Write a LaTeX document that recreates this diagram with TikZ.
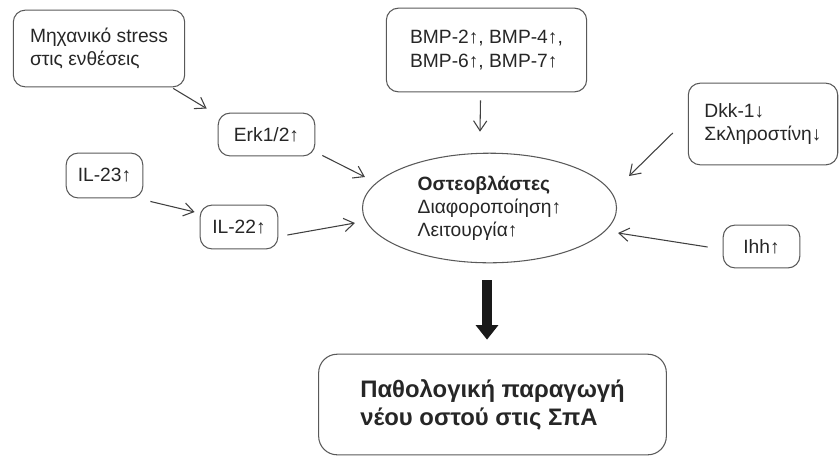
\documentclass[tikz,border=0pt]{standalone}
\usepackage{fontspec}
\setmainfont{Liberation Sans}
\usetikzlibrary{arrows.meta,calc,shapes.geometric}
\tikzset{
  box/.style={draw=black!65,line width=0.8pt,rounded corners=9pt,align=left,text=black!85,inner sep=0pt},
  wh/.style 2 args={minimum width=#1*0.7513pt,minimum height=#2*0.7513pt},
  arr/.style={draw=black!75,line width=0.8pt,-{Straight Barb[length=7.5pt,width=10pt]}},
}
\begin{document}
\begin{tikzpicture}[x=0.0265cm,y=-0.0265cm,font=\fontsize{14.5}{17.5}\selectfont]
\useasboundingbox (0,0) rectangle (840,458);

\node[box,wh={172}{77}] (stress) at (99,48.5) {Μηχανικό stress\\στις ενθέσεις};
\node[box,wh={201}{84}] (bmp) at (486.5,50) {BMP-2↑, BMP-4↑,\\BMP-6↑, BMP-7↑};
\node[box,wh={97}{43}] (erk) at (266.5,134.5) {Erk1/2↑};
\node[box,wh={77}{45}] (il23) at (104.5,175.5) {IL-23↑};
\node[box,wh={78}{44}] (il22) at (239,227) {IL-22↑};
\node[box,wh={150}{82}] (dkk) at (763,124) {Dkk-1↓\\Σκληροστίνη↓};
\node[box,wh={77}{43}] (ihh) at (761.5,246.5) {Ihh↑};
\node[ellipse,draw=black!65,line width=0.8pt,align=left,text=black!85,inner sep=0pt,wh={255}{110}] (osteo) at (489.5,208)
  {\textbf{Οστεοβλάστες}\\Διαφοροποίηση↑\\Λειτουργία↑};
\node[box,rounded corners=14pt,wh={349}{101},font=\fontsize{18}{21}\selectfont\bfseries] (result) at (492.5,404.5)
  {Παθολογική παραγωγή\\νέου οστού στις ΣπΑ};

\draw[arr] ($(stress.south east)+(-12,1)$) -- ($(erk.north west)+(-11,-4)$);
\draw[arr] ($(erk.south east)+(7,-1)$) -- ($(osteo.west)+(3,-31)$);
\draw[arr] ($(il23.south east)+(7,3)$) -- ($(il22.west)+(-5,-15)$);
\draw[arr] ($(il22.east)+(9,8)$) -- ($(osteo.west)+(-7,15)$);
\draw[arr] ($(bmp.south)+(-6,8)$) -- ($(osteo.north)+(-9.5,-21)$);
\draw[arr] ($(dkk.west)+(-15,9)$) -- ($(osteo.east)+(12,-32)$);
\draw[arr] ($(ihh.west)+(-15,0.5)$) -- ($(osteo.east)+(1,25)$);
\draw[black!90,line width=7.5pt,-{Triangle[length=11pt,width=16.5pt]}] ($(osteo.south)+(-2.5,17)$) -- ($(result.north)+(-5.5,-14)$);
\end{tikzpicture}
\end{document}
